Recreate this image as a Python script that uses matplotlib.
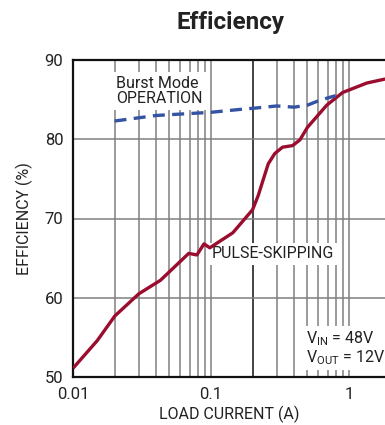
import matplotlib
matplotlib.use('Agg')
import matplotlib.pyplot as plt

# Curva de eficiencia (pulse-skipping) y Burst Mode
load_pulse = [0.01, 0.015, 0.0201, 0.03, 0.043, 0.069, 0.079, 0.089, 0.098, 0.144,
              0.2, 0.22, 0.238, 0.26, 0.29, 0.33, 0.39, 0.44, 0.5, 0.69, 0.9, 1.35, 1.83]
eff_pulse = [51.1, 54.6, 57.7, 60.5, 62.2, 65.6, 65.4, 66.8, 66.3, 68.2,
             71.1, 72.9, 74.8, 76.9, 78.2, 79.0, 79.2, 79.9, 81.5, 84.3, 85.9, 87.1, 87.6]

load_burst = [0.02, 0.04, 0.1, 0.17, 0.2, 0.3, 0.4, 0.5, 0.61, 0.8]
eff_burst = [82.3, 83.0, 83.4, 83.8, 83.9, 84.2, 84.05, 84.3, 84.9, 85.5]

x_ticks = [0.01, 0.1, 1]
x_ticklabels = ['0.01', '0.1', '1']
y_ticks = [50, 60, 70, 80, 90]

FONT = ['Roboto', 'DejaVu Sans']
plt.rcParams['font.family'] = FONT
FS = 11.5

fig = plt.figure(figsize=(3.85, 4.25), dpi=100)
ax = fig.add_axes([73/385, 1 - 377/425, 1 - 73/385, (377 - 60)/425])

ax.set_xscale('log')
ax.set_xlim(0.01, 1.824)
ax.set_ylim(50, 90)

# rejilla vertical en cada multiplo
for dec in [0.01, 0.1, 1]:
    for m in range(1, 10):
        v = dec * m
        if v <= 0.01 or v > 1.8:
            continue
        c = '#111111' if abs(v - 0.2) < 1e-9 else '#808080'
        ax.axvline(v, color=c, lw=1.1, zorder=1)
for v in [60, 70, 80]:
    ax.axhline(v, color='#808080', lw=1.1, zorder=1)

ax.plot(load_pulse, eff_pulse, color='#9b0d2f', lw=2.4, zorder=4,
        solid_capstyle='butt')
ax.plot(load_burst, eff_burst, color='#3553a4', lw=2.4, zorder=4,
        dashes=(3.6, 2.2))

box = dict(facecolor='white', edgecolor='none', pad=2.5)
ax.text(0.0205, 88.0, 'Burst Mode\nOPERATION', fontsize=FS, va='top', ha='left',
        linespacing=1.05, bbox=box, zorder=3, color='#222222')
ax.text(0.1005, 66.5, 'PULSE-SKIPPING', fontsize=FS, va='top', ha='left',
        bbox=box, zorder=3, color='#222222')
ax.text(0.49, 56.0, '$\\mathregular{V_{IN}}$ = 48V\n$\\mathregular{V_{OUT}}$ = 12V',
        fontsize=FS, va='top', ha='left', linespacing=1.0, bbox=box, zorder=3,
        color='#222222')

ax.set_xticks(x_ticks)
ax.set_xticklabels(x_ticklabels)
ax.set_xticks([], minor=True)
ax.set_yticks(y_ticks)
ax.tick_params(length=0, labelsize=12, colors='#222222')
ax.tick_params(axis='y', pad=7)
ax.tick_params(axis='x', pad=7)

for s in ['left', 'bottom', 'top']:
    ax.spines[s].set_linewidth(1.6)
    ax.spines[s].set_color('#111111')
ax.spines['right'].set_visible(False)

ax.set_xlabel('LOAD CURRENT (A)', fontsize=FS, labelpad=3, color='#222222')
ax.set_ylabel('EFFICIENCY (%)', fontsize=FS, labelpad=8, color='#222222')
fig.text(231/385, 1 - 22/425, 'Efficiency', fontsize=17.5, fontweight='bold',
         ha='center', va='center', color='#222222')

fig.savefig('out.png', dpi=100)
